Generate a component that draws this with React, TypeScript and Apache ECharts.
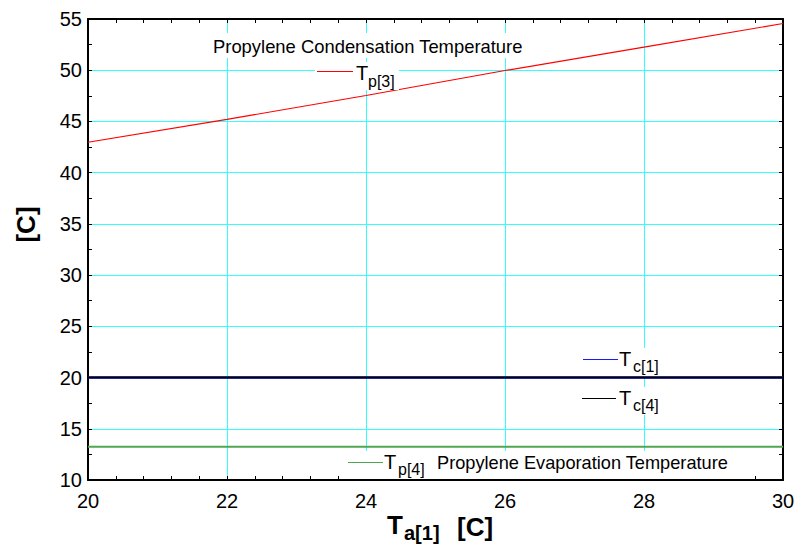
import React, { useEffect, useRef } from "react";
import * as echarts from "echarts";

const xValues = [20, 22, 24, 26, 28, 30];
const tp3 = [42.97, 45.2, 47.53, 49.97, 52.25, 54.56];
const tc1 = [20, 20, 20, 20, 20, 20];
const tc4 = [20, 20, 20, 20, 20, 20];
const tp4 = [13.25, 13.25, 13.25, 13.25, 13.25, 13.25];

const xMin = 20, xMax = 30, xStep = 2;
const yMin = 10, yMax = 55, yStep = 5;

const FONT = "'Liberation Sans', Arial, sans-serif";
const GRIDC = "#33ffff";
const BLUE = "#1a1aff";

const zip = (ys: number[]) => xValues.map((x, i) => [x, ys[i]]);

function txt(x: number, y: number, text: string, size: number, bold = false) {
  return {
    type: "text",
    x,
    y,
    z: 100,
    style: {
      text,
      fontSize: size,
      fontFamily: FONT,
      fontWeight: bold ? "bold" : "normal",
      fill: "#000",
      verticalAlign: "middle",
      align: "left",
    },
  };
}
function rect(x: number, y: number, w: number, h: number) {
  return { type: "rect", z: 99, shape: { x, y, width: w, height: h }, style: { fill: "#fff" } };
}
function seg(x1: number, x2: number, y: number, color: string, w = 1.2) {
  return { type: "line", z: 101, shape: { x1, y1: y, x2, y2: y }, style: { stroke: color, lineWidth: w } };
}

export default function App() {
  const ref = useRef<HTMLDivElement>(null);
  useEffect(() => {
    if (!ref.current) return;
    const chart = echarts.init(ref.current, undefined, { renderer: "svg" });
    const axisCommon = {
      axisLine: { show: true, onZero: false, lineStyle: { color: "#000", width: 2 } },
      axisTick: { show: true, inside: true, length: 4, lineStyle: { color: "#000" } },
    };
    chart.setOption({
      animation: false,
      backgroundColor: "#fff",
      grid: { left: 88, right: 19, top: 19, bottom: 72, containLabel: false },
      xAxis: [
        {
          type: "value", min: xMin, max: xMax, interval: xStep, position: "bottom",
          ...axisCommon,
          minorTick: { show: true, splitNumber: 5, length: 4, lineStyle: { color: "#000" } },
          splitLine: { show: true, lineStyle: { color: GRIDC, width: 1 } },
          axisLabel: { fontSize: 20, fontFamily: FONT, color: "#000", margin: 11 },
        },
        {
          type: "value", min: xMin, max: xMax, interval: xStep, position: "top",
          ...axisCommon,
          minorTick: { show: true, splitNumber: 5, length: 4, lineStyle: { color: "#000" } },
          splitLine: { show: false },
          axisLabel: { show: false },
        },
      ],
      yAxis: [
        {
          type: "value", min: yMin, max: yMax, interval: yStep, position: "left",
          ...axisCommon,
          minorTick: { show: true, splitNumber: 2, length: 4, lineStyle: { color: "#000" } },
          splitLine: { show: true, lineStyle: { color: GRIDC, width: 1 } },
          axisLabel: { fontSize: 20, fontFamily: FONT, color: "#000", margin: 6 },
        },
        {
          type: "value", min: yMin, max: yMax, interval: yStep, position: "right",
          ...axisCommon,
          minorTick: { show: true, splitNumber: 2, length: 4, lineStyle: { color: "#000" } },
          splitLine: { show: false },
          axisLabel: { show: false },
        },
      ],
      series: [
        { type: "line", name: "Tp[4]", data: zip(tp4), showSymbol: false, lineStyle: { color: "#4fa84f", width: 2 }, z: 3 },
        { type: "line", name: "Tp[3]", data: zip(tp3), showSymbol: false, lineStyle: { color: "#ff0000", width: 1.2 }, z: 3 },
        { type: "line", name: "Tc[1]", data: zip(tc1), showSymbol: false, lineStyle: { color: BLUE, width: 2.4 }, z: 3 },
        { type: "line", name: "Tc[4]", data: zip(tc4), showSymbol: false, lineStyle: { color: "#000000", width: 2 }, z: 4 },
      ],
      graphic: [
        rect(210, 33, 316, 25),
        {
          type: "text", x: 213, y: 46, z: 100,
          style: { text: "Propylene Condensation Temperature", fontSize: 18.4, fontFamily: FONT, fill: "#000", verticalAlign: "middle", align: "left" },
        },
        rect(315, 62, 84, 28),
        seg(317, 353, 71.5, "#ff0000"),
        txt(356, 72.5, "T", 20),
        txt(368, 81, "p[3]", 16),
        rect(579, 348, 84, 28),
        seg(583, 618, 359.5, BLUE),
        txt(619, 359, "T", 20),
        txt(633, 366, "c[1]", 16),
        rect(579, 387, 84, 28),
        seg(582, 616, 398.5, "#000000"),
        txt(619, 397.5, "T", 20),
        txt(633, 405, "c[4]", 16),
        rect(344, 451, 388, 28),
        seg(348, 383, 462.5, "#4fa84f"),
        txt(384, 461.5, "T", 20),
        txt(398, 469, "p[4]", 16),
        {
          type: "text", x: 437, y: 463, z: 100,
          style: { text: "Propylene Evaporation Temperature", fontSize: 18.2, fontFamily: FONT, fill: "#000", verticalAlign: "middle", align: "left" },
        },
        txt(387, 525, "T", 26, true),
        txt(404, 533, "a[1]", 20, true),
        txt(457, 526.5, "[C]", 26, true),
        {
          type: "text", x: 26, y: 224.5, rotation: Math.PI / 2, z: 100,
          style: { text: "[C]", fontSize: 26, fontWeight: "bold", fontFamily: FONT, fill: "#000", align: "center", verticalAlign: "middle" },
        },
      ],
    });
    return () => chart.dispose();
  }, []);
  return <div ref={ref} style={{ width: 802, height: 552, position: "absolute", left: 0, top: 0 }} />;
}
